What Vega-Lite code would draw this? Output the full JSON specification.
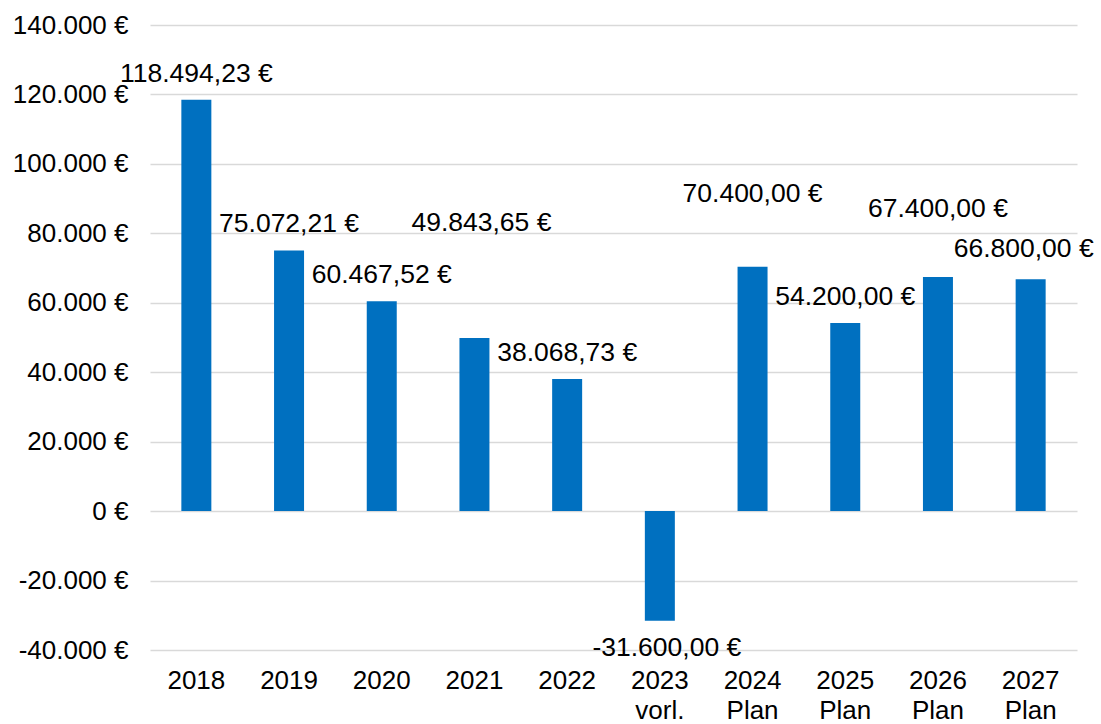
{
  "$schema": "https://vega.github.io/schema/vega-lite/v6.json",
  "autosize": {"type": "none"},
  "width": 927,
  "height": 625,
  "padding": {"left": 150, "top": 25, "right": 24, "bottom": 74},
  "background": "white",
  "config": {
    "locale": {"number": {"decimal": ",", "thousands": ".", "grouping": [3], "currency": ["", " €"], "minus": "-"}},
    "view": {"stroke": null},
    "font": "Liberation Sans",
    "text": {"font": "Liberation Sans", "fontSize": 26.5, "color": "#000000"}
  },
  "data": {
    "values": [
      {"year": "2018", "value": 118494.23},
      {"year": "2019", "value": 75072.21},
      {"year": "2020", "value": 60467.52},
      {"year": "2021", "value": 49843.65},
      {"year": "2022", "value": 38068.73},
      {"year": "2023|vorl.", "value": -31600},
      {"year": "2024|Plan", "value": 70400},
      {"year": "2025|Plan", "value": 54200},
      {"year": "2026|Plan", "value": 67400},
      {"year": "2027|Plan", "value": 66800}
    ]
  },
  "encoding": {
    "x": {
      "field": "year", "type": "nominal", "sort": null, "title": null,
      "axis": {
        "labelAngle": 0, "labelFont": "Liberation Sans", "labelFontSize": 26, "labelColor": "#000000",
        "labelExpr": "split(datum.value, '|')", "labelLineHeight": 30, "labelBaseline": "top",
        "ticks": false, "tickSize": 0, "domain": false, "labelPadding": 17, "grid": false
      }
    },
    "y": {
      "field": "value", "type": "quantitative", "title": null,
      "scale": {"domain": [-40000, 140000], "nice": false, "zero": false},
      "axis": {
        "values": [-40000, -20000, 0, 20000, 40000, 60000, 80000, 100000, 120000, 140000],
        "format": "$,.0f", "labelFont": "Liberation Sans", "labelFontSize": 26, "labelColor": "#000000",
        "ticks": false, "tickSize": 0, "domain": false, "labelPadding": 22,
        "grid": true, "gridColor": "#d9d9d9", "gridWidth": 1.5
      }
    }
  },
  "layer": [
    {"mark": {"type": "bar", "size": 30, "color": "#0070c0"}},
    {
      "transform": [{"filter": "indexof(['2021','2023|vorl.','2024|Plan','2026|Plan','2027|Plan'], datum.year) < 0"}],
      "mark": {"type": "text", "baseline": "alphabetic", "dy": -18},
      "encoding": {"text": {"field": "value", "type": "quantitative", "format": "$,.2f"}}
    },
    {
      "transform": [{"filter": "datum.year == '2021'"}],
      "mark": {"type": "text", "baseline": "alphabetic", "dy": -107, "dx": 7},
      "encoding": {"text": {"field": "value", "type": "quantitative", "format": "$,.2f"}}
    },
    {
      "transform": [{"filter": "datum.year == '2024|Plan'"}],
      "mark": {"type": "text", "baseline": "alphabetic", "dy": -65},
      "encoding": {"text": {"field": "value", "type": "quantitative", "format": "$,.2f"}}
    },
    {
      "transform": [{"filter": "datum.year == '2026|Plan'"}],
      "mark": {"type": "text", "baseline": "alphabetic", "dy": -60},
      "encoding": {"text": {"field": "value", "type": "quantitative", "format": "$,.2f"}}
    },
    {
      "transform": [{"filter": "datum.year == '2027|Plan'"}],
      "mark": {"type": "text", "baseline": "alphabetic", "dy": -22, "dx": -7},
      "encoding": {"text": {"field": "value", "type": "quantitative", "format": "$,.2f"}}
    },
    {
      "transform": [{"filter": "datum.year == '2023|vorl.'"}],
      "mark": {"type": "text", "baseline": "alphabetic", "dy": 35, "dx": 7},
      "encoding": {"text": {"field": "value", "type": "quantitative", "format": "$,.2f"}}
    }
  ]
}
